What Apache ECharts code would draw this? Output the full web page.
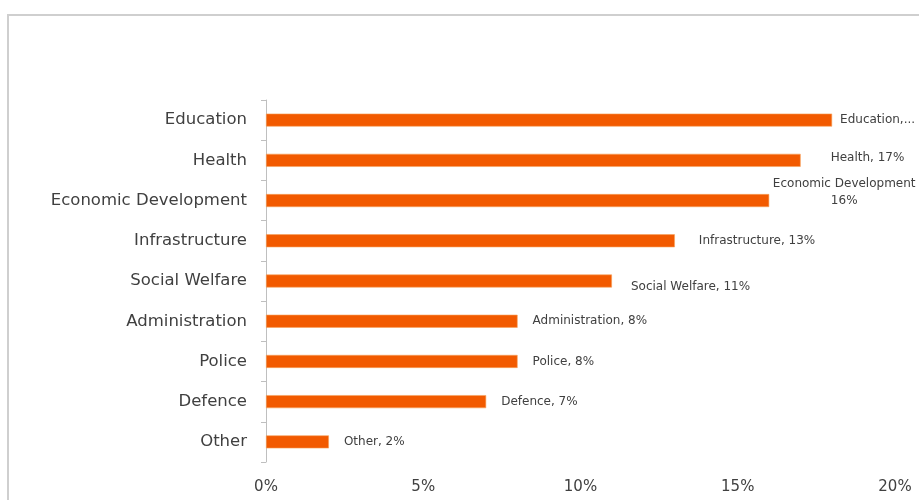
<!DOCTYPE html>
<html>
<head>
<meta charset="utf-8">
<title>Spending by Sector</title>
<script src="https://cdn.jsdelivr.net/npm/echarts@6/dist/echarts.min.js"></script>
<style>
  html, body { margin: 0; padding: 0; background: #ffffff; }
  #chart { width: 919px; height: 500px; }
</style>
</head>
<body>
<div id="chart"></div>
<script>
// Sectors, top to bottom
const categories = ['Education', 'Health', 'Economic Development', 'Infrastructure',
  'Social Welfare', 'Administration', 'Police', 'Defence', 'Other'];
// Share of spending, percent
const shares = [18, 17, 16, 13, 11, 8, 8, 7, 2];
// Value axis ticks
const xTicks = [0, 5, 10, 15, 20];

const BAR = '#f25a00';
const TEXT = '#404040';
const FONT = '"DejaVu Sans", Verdana, sans-serif';

// Category axis runs bottom-up, so reverse to keep Education on top
const cats = categories.slice().reverse();
const vals = shares.slice().reverse();

const seriesData = vals.map((v, i) => {
  const name = cats[i];
  const item = { value: v };
  if (name === 'Economic Development') {
    // two-line label sitting above and right of its bar
    item.label = {
      formatter: '{b}\n{c}%',
      align: 'center',
      distance: 0,
      offset: [75, -8],
      lineHeight: 17
    };
  } else if (name === 'Education') {
    item.label = { width: 80, overflow: 'truncate', ellipsis: '...', distance: 8 };
  } else if (name === 'Health') {
    item.label = { distance: 30, offset: [0, -2] };
  } else if (name === 'Infrastructure') {
    item.label = { distance: 24 };
  } else if (name === 'Social Welfare') {
    item.label = { distance: 19, offset: [0, 6] };
  }
  return item;
});

const chart = echarts.init(document.getElementById('chart'), null, { renderer: 'canvas' });
chart.setOption({
  animation: false,
  backgroundColor: '#ffffff',
  textStyle: { fontFamily: FONT },
  graphic: [{
    type: 'polyline',
    shape: { points: [[8, 500], [8, 15], [919, 15]] },
    style: { stroke: '#cfcfcf', lineWidth: 2, fill: null },
    silent: true
  }],
  grid: { left: 266, right: 24, top: 100, bottom: 38, containLabel: false },
  xAxis: {
    type: 'value',
    min: xTicks[0],
    max: xTicks[xTicks.length - 1],
    interval: xTicks[1] - xTicks[0],
    axisLine: { show: false },
    axisTick: { show: false },
    splitLine: { show: false },
    axisLabel: {
      formatter: '{value}%',
      color: TEXT,
      fontSize: 15,
      fontFamily: FONT,
      margin: 18
    }
  },
  yAxis: {
    type: 'category',
    data: cats,
    axisLine: { show: true, lineStyle: { color: '#bfbfbf', width: 1 } },
    axisTick: { show: true, length: 5, inside: false, lineStyle: { color: '#bfbfbf' } },
    axisLabel: { color: TEXT, fontSize: 16.5, fontFamily: FONT, margin: 19 },
    splitLine: { show: false }
  },
  series: [{
    type: 'bar',
    data: seriesData,
    barWidth: 13,
    itemStyle: { color: BAR, borderColor: '#f7a35c', borderWidth: 0.6 },
    label: {
      show: true,
      position: 'right',
      distance: 15,
      formatter: '{b}, {c}%',
      color: TEXT,
      fontSize: 12,
      fontFamily: FONT
    }
  }]
});
</script>
</body>
</html>
